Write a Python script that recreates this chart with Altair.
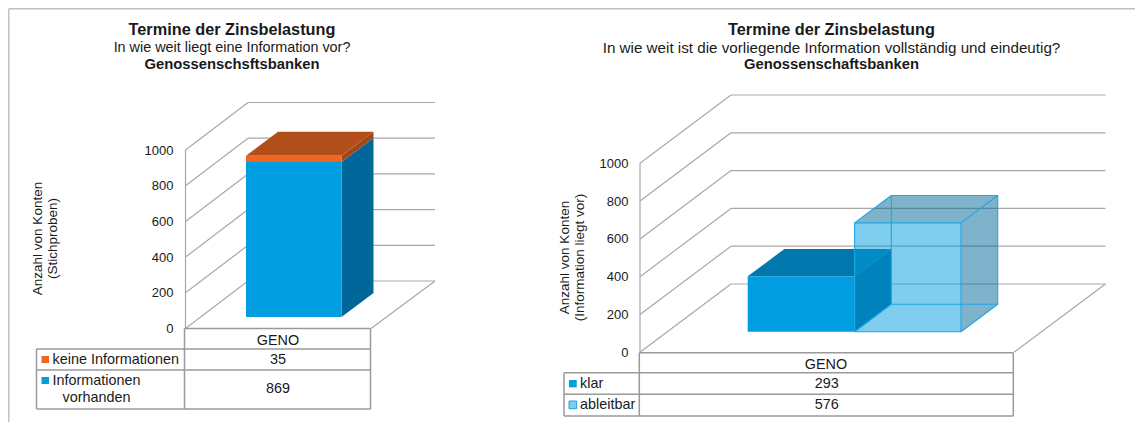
import altair as alt
import pandas as pd

# ---- values ----
ticks = [0, 200, 400, 600, 800, 1000]
category = "GENO"
left_series = ["keine Informationen", "Informationen vorhanden"]
left_values = [35, 869]
right_series = ["klar", "ableitbar"]
right_values = [293, 576]
left_title = ["Termine der Zinsbelastung", "In wie weit liegt eine Information vor?", "Genossenschsftsbanken"]
right_title = ["Termine der Zinsbelastung", "In wie weit ist die vorliegende Information vollständig und eindeutig?", "Genossenschaftsbanken"]
left_axis_title = ["Anzahl von Konten", "(Stichproben)"]
right_axis_title = ["Anzahl von Konten", "(Information liegt vor)"]

FONT = "Liberation Sans"
TXT = "#1a1a1a"
BLUE, BLUE_SIDE = "#009de0", "#00679a"
ORANGE, ORANGE_TOP, ORANGE_SIDE = "#ee6722", "#b24e1a", "#a0481a"
KLAR_TOP, LIGHT_EDGE = "#0078ae", "#1fa5e0"
GRID, TABLE, FRAME = "#a8a8a8", "#9a9a9a", "#c0c0c0"
W, H = 1127, 414
XDOM = [8, 8 + W]


def panel(g):
    k = g["k"]
    val = lambda py: (g["y0"] - py) / k          # page pixel row -> axis value
    xs = alt.Scale(domain=XDOM, nice=False, zero=False)
    ys = alt.Scale(domain=[val(8 + H), val(8)], nice=False, zero=False)
    yaxis = alt.Axis(values=ticks, format="d", orient="left", grid=False, domain=False, ticks=False,
                     labelPadding=0, offset=g["axis_offset"], labelFont=FONT, labelFontSize=13,
                     labelColor=TXT, title=g["axis_title"], titleFont=FONT, titleFontSize=13.5,
                     titleFontWeight="normal", titleColor=TXT, titleX=g["title_x"], titleY=g["title_y"],
                     titleLineHeight=15, titleAngle=270)
    X = alt.X("x:Q", scale=xs, axis=None)
    Y = alt.Y("y:Q", scale=ys, axis=yaxis)
    depth_v = g["dy"] / k                        # wall depth in axis units
    layers = []

    def lines(segs, color, w):
        df = pd.DataFrame(segs, columns=["x", "y", "x2", "y2"])
        layers.append(alt.Chart(df).mark_rule(color=color, strokeWidth=w).encode(
            x=X, y=Y, x2=alt.X2("x2"), y2=alt.Y2("y2")))

    def front(x0, x1, v0, v1, color, opacity=1.0):
        df = pd.DataFrame([dict(x=x0, x2=x1, y=v1, y2=v0)])
        layers.append(alt.Chart(df).mark_rect(color=color, opacity=opacity).encode(
            x=X, y=Y, x2=alt.X2("x2"), y2=alt.Y2("y2")))

    def side(x1, v0, v1, color, opacity=1.0):
        df = pd.DataFrame([dict(x=x1, y=v1, y2=v0),
                           dict(x=x1 + g["bdx"], y=v1 + g["bdv"], y2=v0 + g["bdv"])])
        layers.append(alt.Chart(df).mark_area(color=color, opacity=opacity).encode(
            x=X, y=Y, y2=alt.Y2("y2")))

    def top(x0, x1, v1, color, opacity=1.0):
        df = pd.DataFrame([dict(y=v1, x=x0, x2=x1),
                           dict(y=v1 + g["bdv"], x=x0 + g["bdx"], x2=x1 + g["bdx"])])
        layers.append(alt.Chart(df).mark_area(color=color, opacity=opacity, orient="horizontal").encode(
            x=X, y=Y, x2=alt.X2("x2")))

    # frame of the picture
    if g["frame"]:
        lines(g["frame"], FRAME, 1.5)

    # walls and floor
    ax, dx = g["ax"], g["dx"]
    segs = [[ax, 0, ax, 1000]]
    for t in ticks:
        segs.append([ax, t, ax + dx, t + depth_v])
        segs.append([ax + dx, t + depth_v, g["xend"], t + depth_v])
    segs.append([g["xfront"], 0, g["xend"], depth_v])
    lines(segs, GRID, 1.2)

    # bars
    g["bars"](front, side, top, lines, val)

    # table
    c0, c1, c2 = g["cols"]
    r = [val(p) for p in g["rows"]]
    tab = [[c1, r[0], c2, r[0]], [c1, r[0], c1, r[-1]], [c2, r[0], c2, r[-1]], [c0, r[1], c0, r[-1]]]
    tab += [[c0, q, c2, q] for q in r[1:]]
    lines(tab, TABLE, 1.5)

    # swatches
    for (sx0, sx1, sy0, sy1, col, stroke) in g["swatches"]:
        df = pd.DataFrame([dict(x=sx0, x2=sx1, y=val(sy0), y2=val(sy1))])
        layers.append(alt.Chart(df).mark_rect(color=col, stroke=stroke, strokeWidth=1 if stroke != col else 0).encode(
            x=X, y=Y, x2=alt.X2("x2"), y2=alt.Y2("y2")))

    # texts
    def texts(rows, align="center", weight="normal", size=14.4):
        df = pd.DataFrame(rows, columns=["x", "py", "t"])
        df["y"] = df["py"].map(val)
        layers.append(alt.Chart(df).mark_text(align=align, baseline="middle", font=FONT, fontSize=size,
                                              fontWeight=weight, color=TXT).encode(x=X, y=Y, text="t:N"))

    tx, ty, title = g["title_x_c"], g["title_rows"], g["title"]
    texts([[tx, ty[0], title[0]]], weight="bold", size=16.3)
    texts([[tx, ty[1], title[1]]], size=g["sub_size"])
    texts([[tx, ty[2], title[2]]], weight="bold", size=14.8)
    texts(g["cells"])
    texts(g["left_cells"], align="left")

    return alt.layer(*layers)


# ---- bars ----
def left_bars(front, side, top, lines, val):
    base = val(317)
    x0, x1 = 246, 341.5
    v = base + left_values[1]
    w = v + left_values[0]
    side(x1, base, v, BLUE_SIDE)
    side(x1, v, w, ORANGE_SIDE)
    top(x0, x1, w, ORANGE_TOP)
    front(x0, x1, base, v, BLUE)
    front(x0, x1, v, w, ORANGE)


def right_bars(front, side, top, lines, val):
    base = val(331.7)
    a0, a1, a2 = 747.7, 854.6, 961
    bdx, bdv = 36.7, 27.4 / 0.189
    k = base + right_values[0]
    a = base + right_values[1]
    top(a1, a2, a, BLUE_SIDE, 0.5)
    side(a2, base, a, BLUE_SIDE, 0.5)
    top(a0, a1, k, KLAR_TOP)
    side(a1, base, k, BLUE_SIDE)
    front(a0, a1, base, k, BLUE)
    front(a1, a2, base, a, BLUE, 0.5)
    lines([[a1, base, a2, base], [a1, a, a2, a], [a1, base, a1, a], [a2, base, a2, a],
           [a1, a, a1 + bdx, a + bdv], [a2, a, a2 + bdx, a + bdv], [a1 + bdx, a + bdv, a2 + bdx, a + bdv],
           [a1 + bdx, base + bdv, a1 + bdx, a + bdv], [a2 + bdx, base + bdv, a2 + bdx, a + bdv],
           [a1, base, a1 + bdx, base + bdv], [a2, base, a2 + bdx, base + bdv],
           [a1 + bdx, base + bdv, a2 + bdx, base + bdv]], LIGHT_EDGE, 1.1)


left = panel(dict(
    k=0.1785, y0=328.5, axis_offset=-165, axis_title=left_axis_title,
    title_x=-129, title_y=230, dy=47.5, dx=62.5, ax=185.5, xend=435, xfront=371,
    bdx=32, bdv=24 / 0.1785, bars=left_bars, cols=[36.5, 184.5, 370.5], rows=[328.5, 349, 370, 409],
    frame=[[8.8, (328.5 - 8.8) / 0.1785, 8 + W, (328.5 - 8.8) / 0.1785],
           [8.8, (328.5 - 8.8) / 0.1785, 8.8, (328.5 - 8 - H) / 0.1785]],
    swatches=[[41.5, 49, 356, 363, ORANGE, ORANGE], [41.5, 49, 377, 384, BLUE, BLUE]],
    title=left_title, title_x_c=232, title_rows=[29.5, 47.5, 64.5], sub_size=14.4,
    cells=[[278, 341, category], [278, 360, str(left_values[0])], [278, 389, str(left_values[1])],
           [96.5, 398, "vorhanden"]],
    left_cells=[[52.5, 360, left_series[0]], [52.5, 381, "Informationen"]],
))

right = panel(dict(
    k=0.189, y0=352.3, axis_offset=-620, axis_title=right_axis_title,
    title_x=-57, title_y=249, dy=68.3, dx=91, ax=640, xend=1105.5, xfront=1014,
    bdx=36.7, bdv=27.4 / 0.189, bars=right_bars, cols=[564, 639.3, 1013.3], rows=[352.7, 372.7, 394.3, 416],
    frame=[],
    swatches=[[569, 576.7, 380, 387.3, BLUE, BLUE], [569, 576.7, 401, 408.7, "#80cbf0", LIGHT_EDGE]],
    title=right_title, title_x_c=831.5, title_rows=[30, 48, 65], sub_size=15.2,
    cells=[[826, 365, category], [826.7, 384, str(right_values[0])], [826.7, 405, str(right_values[1])]],
    left_cells=[[580, 384, right_series[0]], [580, 405, right_series[1]]],
))

chart = (
    alt.layer(left, right)
    .resolve_scale(y="independent")
    .properties(width=W, height=H, padding=0, autosize=alt.AutoSizeParams(type="none", contains="padding"))
    .configure_view(stroke=None)
)
chart.save("out.html", embed_options={"renderer": "svg", "actions": False})
